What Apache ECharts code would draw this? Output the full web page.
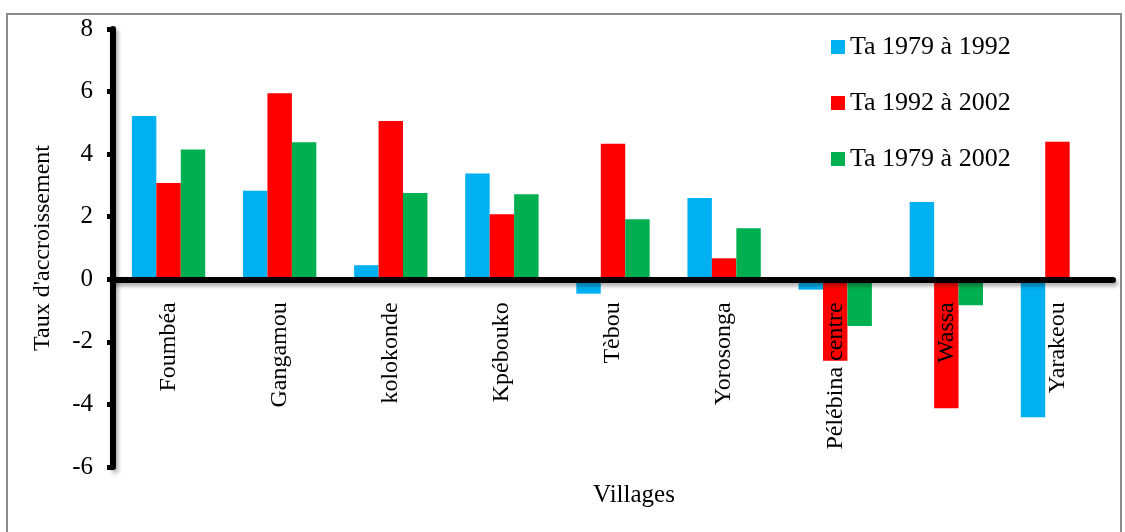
<!DOCTYPE html>
<html>
<head>
<meta charset="utf-8">
<script src="https://cdn.jsdelivr.net/npm/echarts@6/dist/echarts.min.js"></script>
<style>
html,body{margin:0;padding:0;background:#fff;}
#chart{width:1125px;height:532px;}
</style>
</head>
<body>
<div id="chart"></div>
<script>
var villages = ['Foumbéa','Gangamou','kolokonde','Kpébouko','Tèbou','Yorosonga','Pélébina centre','Wassa','Yarakeou'];
var seriesNames = ['Ta 1979 à 1992','Ta 1992 à 2002','Ta 1979 à 2002'];
var ta1979_1992 = [5.22, 2.83, 0.45, 3.38, -0.46, 2.60, -0.33, 2.47, -4.41];
var ta1992_2002 = [3.08, 5.95, 5.06, 2.08, 4.33, 0.67, -2.60, -4.12, 4.40];
var ta1979_2002 = [4.15, 4.38, 2.76, 2.72, 1.92, 1.63, -1.49, -0.83, 0];
var yTicks = [-6, -4, -2, 0, 2, 4, 6, 8];

var colors = ['#00B0F0', '#FF0000', '#00B050'];
var serif = "'Liberation Serif', 'DejaVu Serif', serif";
var axisShadow = {shadowColor:'rgba(0,0,0,0.35)', shadowBlur:4, shadowOffsetX:2, shadowOffsetY:3};

var gridTop = 29, gridBottom = 65, H = 532;
var yMin = yTicks[0], yMax = yTicks[yTicks.length-1];
var plotH = H - gridTop - gridBottom;
var zeroFromBottom = plotH * (0 - yMin) / (yMax - yMin);

var chart = echarts.init(document.getElementById('chart'));
var values = [ta1979_1992, ta1992_2002, ta1979_2002];
chart.setOption({
  animation:false,
  backgroundColor:'#fff',
  color: colors,
  graphic:[
    {type:'rect', shape:{x:7, y:14, width:1114, height:530}, style:{fill:'none', stroke:'#8c8c8c', lineWidth:2}, z:-1},
    {type:'text', x:634, y:495, style:{text:'Villages', font:'25px ' + serif, fill:'#000', textAlign:'center', textVerticalAlign:'middle'}}
  ],
  legend:{
    orient:'vertical', left:826, top:29,
    itemWidth:14, itemHeight:14, itemGap:30, icon:'rect',
    textStyle:{fontFamily:serif, fontSize:26, color:'#000'},
    data: seriesNames
  },
  grid:{left:113, right:12, top:gridTop, bottom:gridBottom, containLabel:false, outerBoundsMode:'none'},
  xAxis:{
    type:'category', data: villages, z:10,
    offset: -zeroFromBottom,
    axisLine:{onZero:false, lineStyle:Object.assign({color:'#000', width:6}, axisShadow)},
    axisTick:{show:false},
    axisLabel:{rotate:90, margin:23, fontFamily:serif, fontSize:24, color:'#000', interval:0,
               hideOverlap:false, overflow:'none', width:400}
  },
  yAxis:{
    type:'value', min:yMin, max:yMax, interval:2, z:10,
    name:"Taux d'accroissement", nameLocation:'middle', nameGap:58, nameRotate:90,
    nameTextStyle:{fontFamily:serif, fontSize:24, color:'#000'},
    axisLine:{show:true, lineStyle:Object.assign({color:'#000', width:6}, axisShadow)},
    axisTick:{show:true, length:6, lineStyle:{color:'#000', width:5}},
    splitLine:{show:false},
    axisLabel:{margin:20, fontFamily:serif, fontSize:25, color:'#000'}
  },
  series: seriesNames.map(function(n, i){
    return {name:n, type:'bar', data: values[i], barGap:'0%', barCategoryGap:'34%', z:2};
  })
});
</script>
</body>
</html>
